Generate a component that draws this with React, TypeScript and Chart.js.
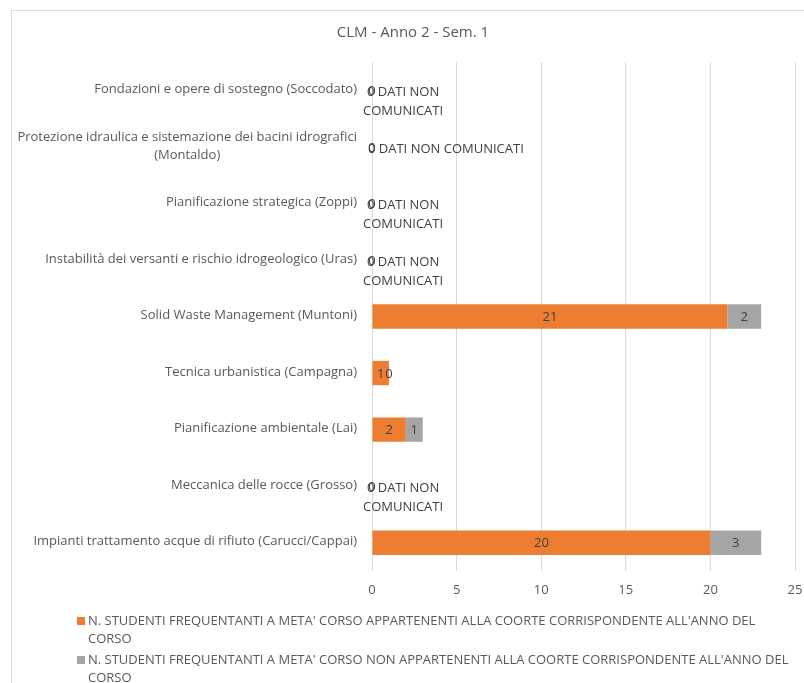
import React, { useEffect, useRef } from "react";
import { Chart, registerables } from "chart.js";
Chart.register(...registerables);

const chartTitle = "CLM - Anno 2 - Sem. 1";

const categories: string[][] = [
  ["Fondazioni e opere di sostegno (Soccodato)"],
  ["Protezione idraulica e sistemazione dei bacini idrografici", "(Montaldo)"],
  ["Pianificazione strategica (Zoppi)"],
  ["Instabilità dei versanti e rischio idrogeologico (Uras)"],
  ["Solid Waste Management (Muntoni)"],
  ["Tecnica urbanistica (Campagna)"],
  ["Pianificazione ambientale (Lai)"],
  ["Meccanica delle rocce (Grosso)"],
  ["Impianti trattamento acque di rifiuto (Carucci/Cappai)"],
];

const inCohort = [0, 0, 0, 0, 21, 1, 2, 0, 20];
const outCohort = [0, 0, 0, 0, 2, 0, 1, 0, 3];

const outCohortNotes: (string[] | null)[] = [
  ["0 DATI NON", "COMUNICATI"],
  ["0 DATI NON COMUNICATI"],
  ["0 DATI NON", "COMUNICATI"],
  ["0 DATI NON", "COMUNICATI"],
  null,
  null,
  null,
  ["0 DATI NON", "COMUNICATI"],
  null,
];

const xMin = 0;
const xMax = 25;
const xStep = 5;

const seriesNames = [
  "N. STUDENTI FREQUENTANTI A META' CORSO APPARTENENTI ALLA COORTE CORRISPONDENTE ALL'ANNO DEL CORSO",
  "N. STUDENTI FREQUENTANTI A META' CORSO NON APPARTENENTI ALLA COORTE CORRISPONDENTE ALL'ANNO DEL CORSO",
];
const legendLines: string[][] = [
  ["N. STUDENTI FREQUENTANTI A META' CORSO APPARTENENTI ALLA COORTE CORRISPONDENTE ALL'ANNO DEL", "CORSO"],
  ["N. STUDENTI FREQUENTANTI A META' CORSO NON APPARTENENTI ALLA COORTE CORRISPONDENTE ALL'ANNO DEL", "CORSO"],
];

const COLORS = ["#ED7D31", "#A5A5A5"];
const FONT = "'Open Sans', sans-serif";
const TEXT = "#595959";
const LABEL = "#404040";
const FS = 13;

const customPlugin = {
  id: "customDraw",
  afterDatasetsDraw(chart: any) {
    const ctx = chart.ctx;
    const m0 = chart.getDatasetMeta(0);
    const m1 = chart.getDatasetMeta(1);
    ctx.save();
    ctx.font = `${FS}px ${FONT}`;
    ctx.fillStyle = LABEL;
    ctx.textBaseline = "middle";
    ctx.textAlign = "center";
    for (let i = 0; i < categories.length; i++) {
      const b0 = m0.data[i].getProps(["x", "y", "base"], true);
      const b1 = m1.data[i].getProps(["x", "y", "base"], true);
      ctx.fillText(String(inCohort[i]), (b0.x + b0.base) / 2, b0.y + 1);
      const note = outCohortNotes[i];
      if (note) {
        const w = Math.max(...note.map((l) => ctx.measureText(l).width));
        const left = b1.base - (note.length > 1 ? 9 : 4);
        note.forEach((l, k) => {
          ctx.fillText(l, left + w / 2, b1.y + 2 + k * 19);
        });
      } else {
        ctx.fillText(String(outCohort[i]), (b1.x + b1.base) / 2, b1.y + 1);
      }
    }
    ctx.restore();
  },
  afterDraw(chart: any) {
    const ctx = chart.ctx;
    const area = chart.chartArea;
    const y = chart.scales.y;
    ctx.save();
    // title
    ctx.fillStyle = TEXT;
    ctx.font = `15px ${FONT}`;
    ctx.textAlign = "center";
    ctx.textBaseline = "middle";
    ctx.fillText(chartTitle, chart.width / 2, 23);
    // category labels
    ctx.font = `${FS}px ${FONT}`;
    const right = area.left - 15;
    categories.forEach((lines, i) => {
      const cy = y.getPixelForValue(i);
      const w = Math.max(...lines.map((l) => ctx.measureText(l).width));
      const lh = 18;
      const top = cy - ((lines.length - 1) * lh) / 2;
      ctx.textAlign = "center";
      lines.forEach((l, k) => {
        ctx.fillText(l, right - w / 2, top + k * lh - 1);
      });
    });
    // legend
    ctx.font = `${FS}px ${FONT}`;
    ctx.textAlign = "left";
    const legTops = [611, 650];
    legendLines.forEach((lines, i) => {
      const ty = legTops[i];
      ctx.fillStyle = COLORS[i];
      ctx.fillRect(67, ty - 4, 8, 8);
      ctx.fillStyle = TEXT;
      lines.forEach((l, k) => {
        ctx.fillText(l, 78, ty + k * 18.5);
      });
    });
    ctx.restore();
  },
};

export default function App() {
  const ref = useRef<HTMLCanvasElement | null>(null);
  useEffect(() => {
    if (!ref.current) return;
    const chart = new Chart(ref.current, {
      type: "bar",
      data: {
        labels: categories.map((c) => c.join(" ")),
        datasets: [
          {
            label: seriesNames[0],
            data: inCohort,
            backgroundColor: COLORS[0],
            barPercentage: 0.43,
            categoryPercentage: 1,
          },
          {
            label: seriesNames[1],
            data: outCohort,
            backgroundColor: COLORS[1],
            barPercentage: 0.43,
            categoryPercentage: 1,
          },
        ],
      },
      options: {
        indexAxis: "y",
        responsive: false,
        maintainAspectRatio: false,
        animation: false,
        layout: { padding: { left: 0, right: 21, top: 52, bottom: 82 } },
        plugins: {
          legend: { display: false },
          title: { display: false },
          tooltip: { enabled: false },
        },
        scales: {
          x: {
            stacked: true,
            min: xMin,
            max: xMax,
            ticks: { stepSize: xStep, color: TEXT, font: { family: FONT, size: FS }, padding: 11 },
            grid: { color: "#d9d9d9", drawTicks: false, lineWidth: 1 },
            border: { display: false },
            afterFit: (s: any) => {
              s.height = 30;
            },
          },
          y: {
            stacked: true,
            ticks: { display: false },
            grid: { display: false },
            border: { display: false },
            afterFit: (s: any) => {
              s.width = 362;
            },
          },
        },
      },
      plugins: [customPlugin],
    } as any);
    return () => chart.destroy();
  }, []);
  return (
    <div
      style={{
        position: "fixed",
        left: 0,
        top: 0,
        width: 804,
        height: 683,
        overflow: "hidden",
        background: "#fff",
      }}
    >
      <div
        style={{
          position: "absolute",
          left: 11,
          top: 10,
          width: 806,
          height: 700,
          border: "1px solid #d9d9d9",
          boxSizing: "border-box",
        }}
      />
      <canvas
        ref={ref}
        width={806}
        height={673}
        style={{ position: "absolute", left: 10, top: 10, width: 806, height: 673 }}
      />
    </div>
  );
}
